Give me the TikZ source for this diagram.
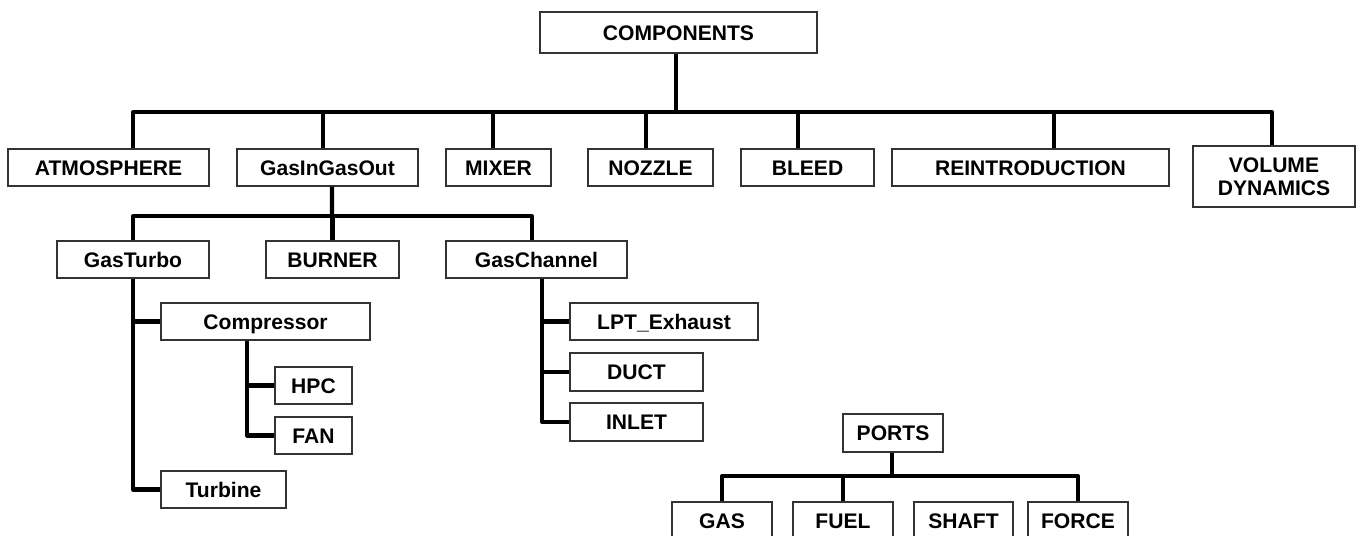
\documentclass[tikz,border=0pt]{standalone}
\usepackage{fontspec}
\setmainfont{Liberation Sans}
\usetikzlibrary{calc}

\begin{document}
\begin{tikzpicture}[
    x=0.02cm, y=-0.02cm,
    every node/.style={font=\bfseries\fontsize{12}{13}\selectfont},
    box/.style 2 args={draw=black!80, line width=0.6pt, fill=white, inner sep=0pt,
        text height=8.6pt, text depth=0pt,
        minimum width=#1*0.02cm, minimum height=#2*0.02cm},
    twoline/.style={align=center, text height=, text depth=},
    link/.style={line width=2.3pt, line join=round}
]
\useasboundingbox (0,0) rectangle (1357,535);
\clip (0,0) rectangle (1357,535);

% ---- top level ----
\node[box={277}{41}] (comp) at (678.5,32.5) {COMPONENTS};

\node[box={201}{37}] (atm)    at (108.5,167.5) {ATMOSPHERE};
\node[box={181}{37}] (gigo)   at (327.5,167.5) {GasInGasOut};
\node[box={105}{37}] (mixer)  at (498.5,167.5) {MIXER};
\node[box={125}{37}] (nozzle) at (650.5,167.5) {NOZZLE};
\node[box={133}{37}] (bleed)  at (807.5,167.5) {BLEED};
\node[box={277}{37}] (reint)  at (1030.5,167.5) {REINTRODUCTION};
\node[box={162}{61}, twoline] (vol) at (1274,176.5) {VOLUME\\DYNAMICS};

\coordinate (bus) at (676,112);
\draw[link] ($(atm.north)+(24.5,0)$) |- (bus) -| ($(vol.north)+(-2,0)$);
\draw[link] (comp.south -| bus) -- (bus);
\foreach \n/\dx in {gigo/-4.5, mixer/-5.5, nozzle/-4.5, bleed/-9.5, reint/23.5} {
  \coordinate (d) at ($(\n.north)+(\dx,0)$);
  \draw[link] (d) -- (d |- bus);
}

% ---- GasInGasOut branch ----
\node[box={152}{37}] (gturbo) at (133,259.5) {GasTurbo};
\node[box={133}{37}] (burner) at (332.5,259.5) {BURNER};
\node[box={181}{37}] (gchan)  at (536.5,259.5) {GasChannel};

\coordinate (bus2) at (332,216);
\draw[link] (gturbo.north) |- (bus2) -| ($(gchan.north)+(-4.5,0)$);
\draw[link] ($(gigo.south)+(4.5,0)$) -- (bus2);
\draw[link] (burner.north) -- (burner.north |- bus2);

% ---- GasTurbo ----
\node[box={209}{37}] (compr)   at (265.5,321.5) {Compressor};
\node[box={77}{37}]  (hpc)     at (313.5,385.5) {HPC};
\node[box={77}{37}]  (fan)     at (313.5,435.5) {FAN};
\node[box={125}{37}] (turbine) at (223.5,489.5) {Turbine};

\draw[link] (gturbo.south) |- (turbine.west);
\draw[link] (compr.west -| gturbo.south) -- (compr.west);
\coordinate (cdrop) at ($(compr.south)+(-18.5,0)$);
\draw[link] (cdrop) |- (fan.west);
\draw[link] (hpc.west -| cdrop) -- (hpc.west);

% ---- GasChannel ----
\node[box={188}{37}] (lpt)   at (664,321.5) {LPT\_Exhaust};
\node[box={133}{38}] (duct)  at (636.5,372) {DUCT};
\node[box={133}{38}] (inlet) at (636.5,422) {INLET};

\coordinate (gdrop) at ($(gchan.south)+(5.5,0)$);
\draw[link] (gdrop) |- (inlet.west);
\draw[link] (lpt.west -| gdrop) -- (lpt.west);
\draw[link] (duct.west -| gdrop) -- (duct.west);

% ---- ports ----
\node[box={100}{38}] (ports) at (893,433) {PORTS};
\node[box={100}{37}] (gas)   at (722,520.5) {GAS};
\node[box={100}{37}] (fuel)  at (843,520.5) {FUEL};
\node[box={99}{37}]  (shaft) at (963.5,520.5) {SHAFT};
\node[box={100}{37}] (force) at (1078,520.5) {FORCE};

\coordinate (bus3) at (892,476);
\draw[link] (gas.north) |- (bus3) -| (force.north);
\draw[link] (bus3 |- ports.south) -- (bus3);
\draw[link] (fuel.north) -- (fuel.north |- bus3);
\draw[link] ($(shaft.north)+(-6.5,0)$) -- ($(shaft.north)+(-6.5,0)$ |- bus3);
\end{tikzpicture}
\end{document}
